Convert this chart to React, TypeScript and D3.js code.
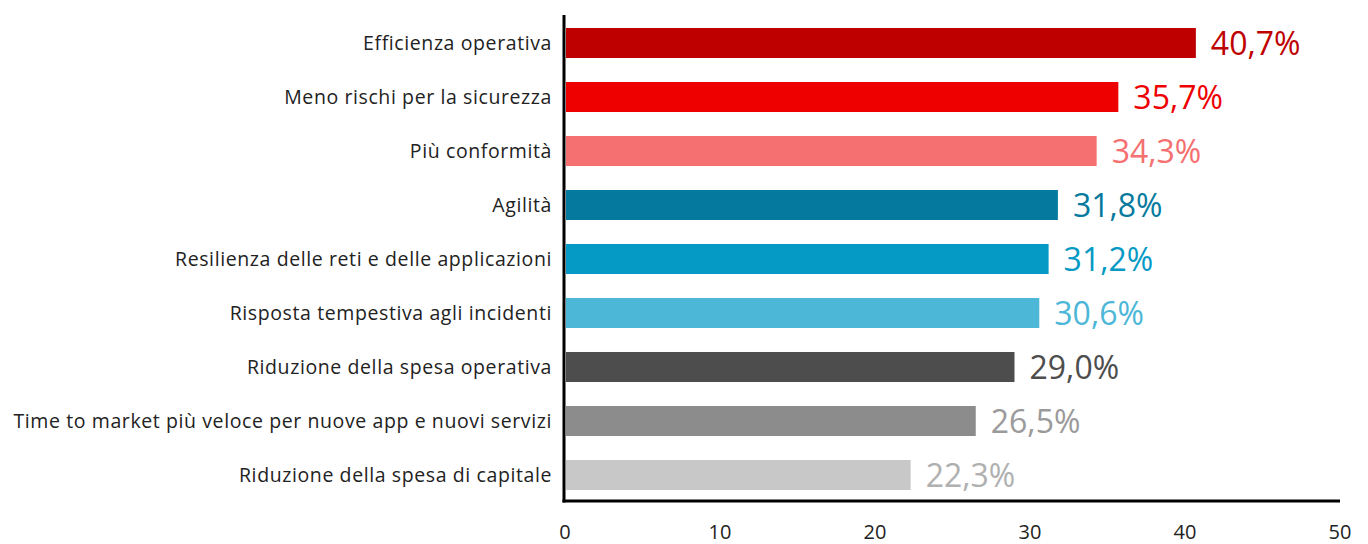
import React from "react";
import * as d3 from "d3";

const categories = [
  "Efficienza operativa",
  "Meno rischi per la sicurezza",
  "Più conformità",
  "Agilità",
  "Resilienza delle reti e delle applicazioni",
  "Risposta tempestiva agli incidenti",
  "Riduzione della spesa operativa",
  "Time to market più veloce per nuove app e nuovi servizi",
  "Riduzione della spesa di capitale",
];
const values = [40.7, 35.7, 34.3, 31.8, 31.2, 30.6, 29.0, 26.5, 22.3];
const barColors = ["#BE0000", "#EE0000", "#F47071", "#067A9E", "#049AC5", "#4DB7D8", "#4D4D4D", "#8C8C8C", "#C8C8C8"];
const labelColors = ["#BE0000", "#EE0000", "#F47071", "#067A9E", "#049AC5", "#4DB7D8", "#4D4D4D", "#9A9A9A", "#B0B0B0"];
const xTicks = [0, 10, 20, 30, 40, 50];

const W = 1368;
const H = 544;

export default function App() {
  const x = d3.scaleLinear().domain([0, 50]).range([565, 1340]);
  const y = d3
    .scaleBand<string>()
    .domain(categories)
    .range([16, 502])
    .paddingInner(0.444)
    .paddingOuter(0.222);
  const fmt = (v: number) => v.toFixed(1).replace(".", ",") + "%";
  return (
    <svg
      width={W}
      height={H}
      style={{ position: "absolute", left: 0, top: 0, background: "#fff" }}
      fontFamily="'Open Sans', sans-serif"
    >
      {categories.map((c, i) => (
        <g key={c}>
          <rect
            x={x(0) + 1}
            y={y(c)!}
            width={x(values[i]) - x(0) - 1}
            height={y.bandwidth()}
            fill={barColors[i]}
          />
          <text
            x={552}
            y={y(c)! + y.bandwidth() / 2}
            dy="0.35em"
            textAnchor="end"
            fontSize={19.5}
            letterSpacing={0.6}
            fill="#222"
          >
            {c}
          </text>
          <text
            x={x(values[i]) + 15}
            y={y(c)! + y.bandwidth() / 2}
            dy="0.36em"
            fontSize={32}
            fill={labelColors[i]}
          >
            {fmt(values[i])}
          </text>
        </g>
      ))}
      <line x1={x(0) - 1} x2={x(0) - 1} y1={15} y2={502.5} stroke="#000" strokeWidth={3} />
      <line x1={x(0) - 2.5} x2={x(50)} y1={501} y2={501} stroke="#000" strokeWidth={3} />
      {xTicks.map((t) => (
        <text key={t} x={x(t)} y={539} textAnchor="middle" fontSize={20} fill="#222">
          {t}
        </text>
      ))}
    </svg>
  );
}
